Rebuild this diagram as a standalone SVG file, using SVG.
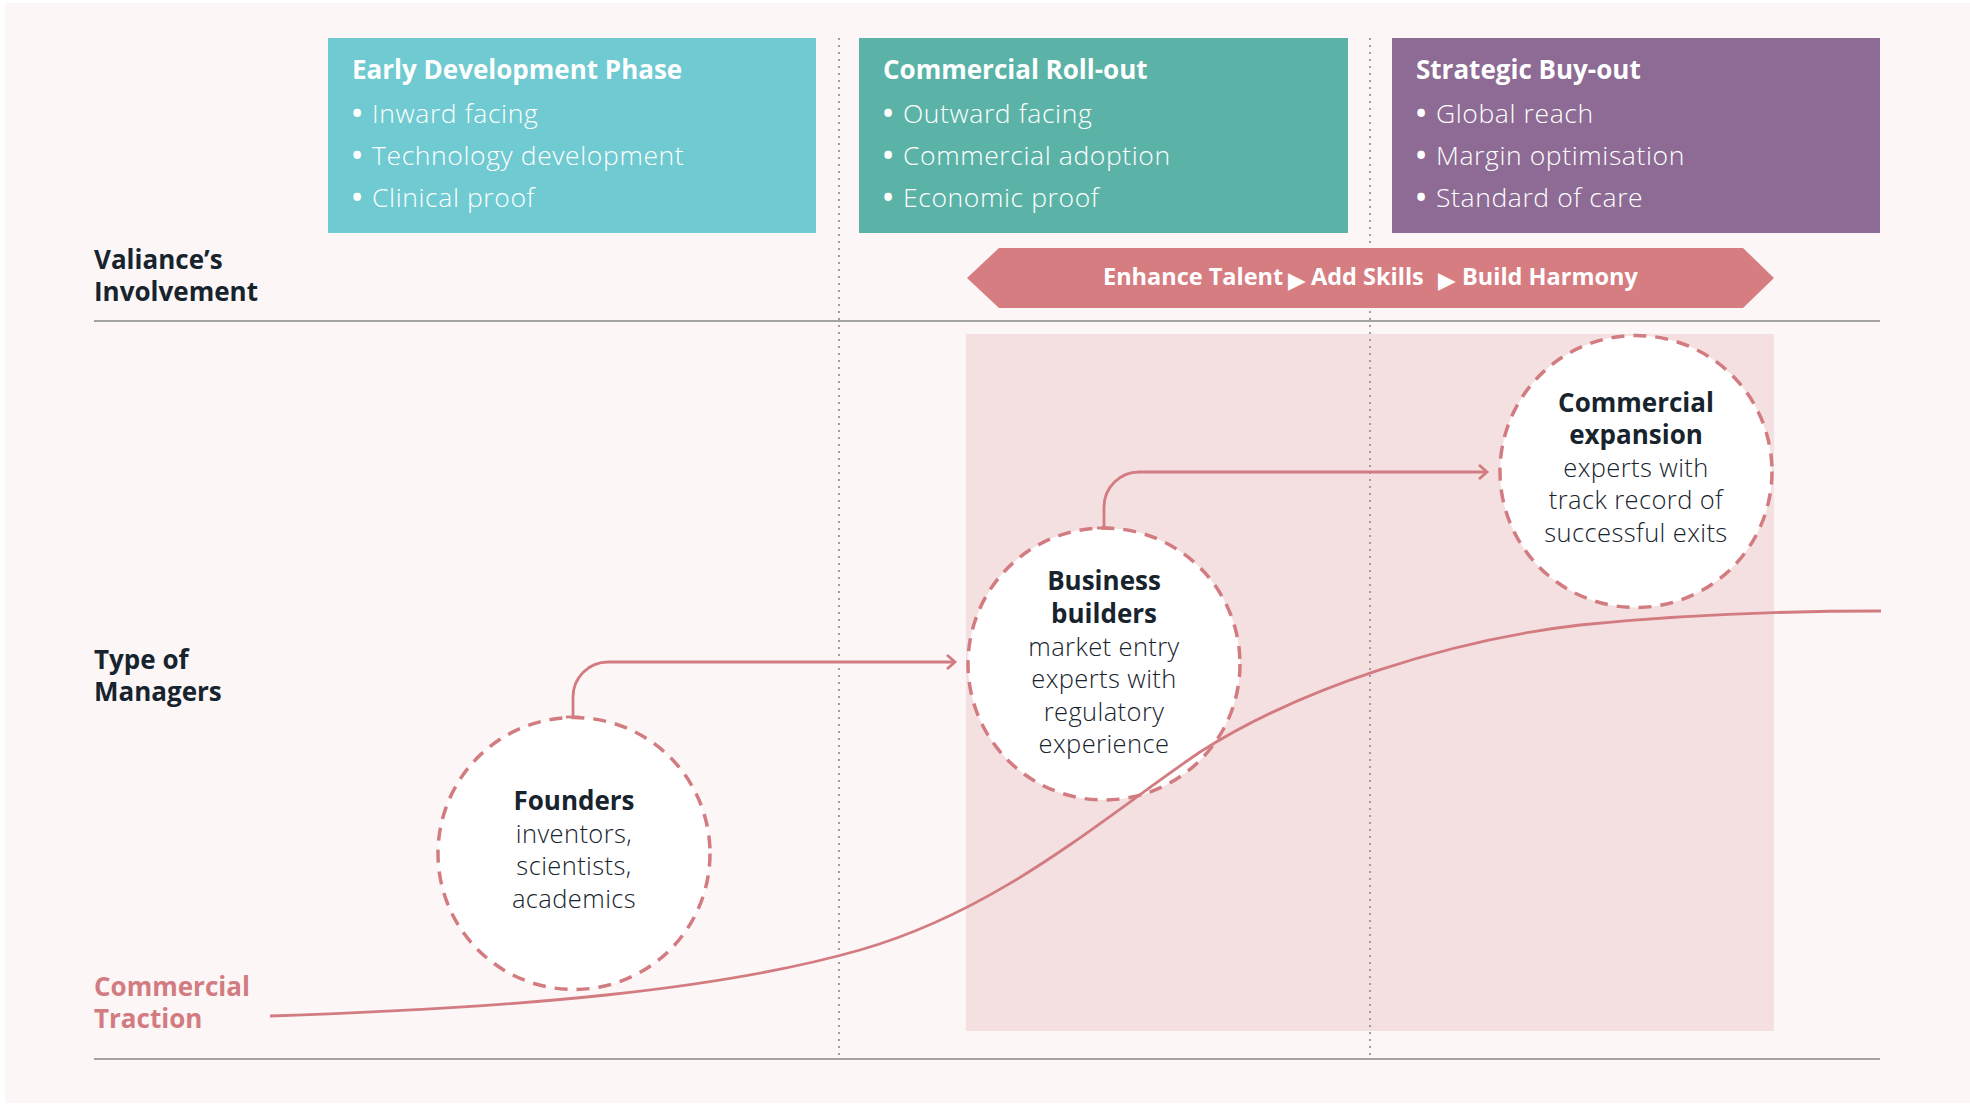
<svg xmlns="http://www.w3.org/2000/svg" width="1970" height="1104" viewBox="0 0 1970 1104">
  <defs>
    <style>
      .bg { fill: #fcf6f6; }
      .title { font-family: "Open Sans", "Liberation Sans", sans-serif; font-weight: 700; font-size: 26px; fill: #ffffff; }
      .bullet { font-family: "Open Sans", "Liberation Sans", sans-serif; font-weight: 300; font-size: 26.5px; letter-spacing: 0.6px; fill: #ffffff; }
      .dot { font-weight: 700; font-size: 27px; letter-spacing: 0; }
      .label { font-family: "Open Sans", "Liberation Sans", sans-serif; font-weight: 700; font-size: 26px; fill: #17242d; }
      .label-pink { font-family: "Open Sans", "Liberation Sans", sans-serif; font-weight: 700; font-size: 26px; fill: #d27c81; }
      .band-text { font-family: "Open Sans", "Liberation Sans", sans-serif; font-weight: 700; font-size: 23.5px; fill: #ffffff; }
      .tri { font-family: "DejaVu Sans", sans-serif; font-size: 23px; fill: #ffffff; }
      .ctitle { font-family: "Open Sans", "Liberation Sans", sans-serif; font-weight: 700; font-size: 26px; fill: #17242d; text-anchor: middle; }
      .ctext { font-family: "Open Sans", "Liberation Sans", sans-serif; font-weight: 300; font-size: 25.5px; letter-spacing: 0.4px; fill: #17242d; text-anchor: middle; }
      .circle { fill: #ffffff; stroke: #d27c81; stroke-width: 3.5; stroke-dasharray: 13 9; }
      .hline { stroke: #a3a3a3; stroke-width: 2; fill: none; }
      .vdot { stroke: #8a8a8a; stroke-width: 1.6; stroke-dasharray: 2 5; fill: none; }
      .conn { stroke: #d27c81; stroke-width: 2.8; fill: none; }
    </style>
    <marker id="chev" markerUnits="userSpaceOnUse" markerWidth="20" markerHeight="20" viewBox="0 0 20 20" refX="10" refY="10" orient="auto">
      <path d="M2,3 L10,10 L2,17" fill="none" stroke="#d27c81" stroke-width="2.8"/>
    </marker>
  </defs>

  <rect x="0" y="0" width="1970" height="1104" fill="#ffffff"/>
  <rect class="bg" x="5" y="3" width="1965" height="1100"/>

  <!-- shaded engagement region -->
  <rect id="engagement-zone" x="966" y="334" width="808" height="697" fill="#f5e0e1"/>

  <!-- grid lines -->
  <g id="grid">
    <line class="hline" x1="94" y1="321" x2="1880" y2="321"/>
    <line class="hline" x1="94" y1="1059" x2="1880" y2="1059"/>
    <line class="vdot" x1="839" y1="38" x2="839" y2="1059"/>
    <line class="vdot" x1="1370" y1="38" x2="1370" y2="1059"/>
  </g>

  <!-- phase boxes -->
  <g id="phase-early">
    <rect x="328" y="38" width="488" height="195" fill="#6fcad1"/>
    <text class="title" x="352" y="79">Early Development Phase</text>
    <text class="bullet" x="352" y="123"><tspan class="dot">•</tspan><tspan x="372">Inward facing</tspan></text>
    <text class="bullet" x="352" y="165"><tspan class="dot">•</tspan><tspan x="372">Technology development</tspan></text>
    <text class="bullet" x="352" y="207"><tspan class="dot">•</tspan><tspan x="372">Clinical proof</tspan></text>
  </g>
  <g id="phase-rollout">
    <rect x="859" y="38" width="489" height="195" fill="#5bb3a7"/>
    <text class="title" x="883" y="79">Commercial Roll-out</text>
    <text class="bullet" x="883" y="123"><tspan class="dot">•</tspan><tspan x="903">Outward facing</tspan></text>
    <text class="bullet" x="883" y="165"><tspan class="dot">•</tspan><tspan x="903">Commercial adoption</tspan></text>
    <text class="bullet" x="883" y="207"><tspan class="dot">•</tspan><tspan x="903">Economic proof</tspan></text>
  </g>
  <g id="phase-buyout">
    <rect x="1392" y="38" width="488" height="195" fill="#8d6b94"/>
    <text class="title" x="1416" y="79">Strategic Buy-out</text>
    <text class="bullet" x="1416" y="123"><tspan class="dot">•</tspan><tspan x="1436">Global reach</tspan></text>
    <text class="bullet" x="1416" y="165"><tspan class="dot">•</tspan><tspan x="1436">Margin optimisation</tspan></text>
    <text class="bullet" x="1416" y="207"><tspan class="dot">•</tspan><tspan x="1436">Standard of care</tspan></text>
  </g>

  <!-- band -->
  <g id="involvement-band">
    <path d="M999,248 L1743,248 L1774,278 L1743,308 L999,308 L967,278 Z" fill="#d67d82"/>
    <text class="band-text" y="285"><tspan x="1103">Enhance Talent</tspan><tspan class="tri" x="1288" y="288">▶</tspan><tspan x="1311" y="285">Add Skills</tspan><tspan class="tri" x="1438" y="288">▶</tspan><tspan x="1462" y="285">Build Harmony</tspan></text>
  </g>

  <!-- row labels -->
  <g id="label-involvement">
    <text class="label" x="94" y="268.5">Valiance’s<tspan x="94" dy="32">Involvement</tspan></text>
  </g>
  <g id="label-managers">
    <text class="label" x="94" y="668.5">Type of<tspan x="94" dy="32">Managers</tspan></text>
  </g>
  <g id="label-traction">
    <text class="label-pink" x="94" y="996">Commercial<tspan x="94" dy="32">Traction</tspan></text>
  </g>

  <!-- manager circles -->
  <g id="node-founders">
    <circle class="circle" cx="574" cy="853.5" r="136"/>
    <text class="ctitle" x="574" y="810">Founders</text>
    <text class="ctext" x="574" y="842.5">inventors,</text>
    <text class="ctext" x="574" y="875">scientists,</text>
    <text class="ctext" x="574" y="907.5">academics</text>
  </g>
  <g id="node-business-builders">
    <circle class="circle" cx="1104" cy="664" r="136"/>
    <text class="ctitle" x="1104" y="590">Business</text>
    <text class="ctitle" x="1104" y="622.5">builders</text>
    <text class="ctext" x="1104" y="655.5">market entry</text>
    <text class="ctext" x="1104" y="688">experts with</text>
    <text class="ctext" x="1104" y="720.5">regulatory</text>
    <text class="ctext" x="1104" y="753">experience</text>
  </g>
  <g id="node-commercial-expansion">
    <circle class="circle" cx="1636" cy="471.5" r="136"/>
    <text class="ctitle" x="1636" y="411.5">Commercial</text>
    <text class="ctitle" x="1636" y="444">expansion</text>
    <text class="ctext" x="1636" y="476.5">experts with</text>
    <text class="ctext" x="1636" y="509">track record of</text>
    <text class="ctext" x="1636" y="541.5">successful exits</text>
  </g>

  <!-- connectors -->
  <g id="connectors">
    <path class="conn" d="M573,717 L573,697 A35,35 0 0 1 608,662 L955,662" marker-end="url(#chev)"/>
    <line class="conn" x1="566" y1="717" x2="580" y2="717"/>
    <path class="conn" d="M1104,528 L1104,507 A35,35 0 0 1 1139,472 L1487,472" marker-end="url(#chev)"/>
    <line class="conn" x1="1097" y1="528" x2="1111" y2="528"/>
    <path id="traction-curve" class="conn" d="M270,1016 C520,1008 720,990 860,950 C1000,910 1100,820 1200,752 C1300,688 1450,640 1580,625 C1700,613 1800,611 1881,611"/>
  </g>
</svg>
